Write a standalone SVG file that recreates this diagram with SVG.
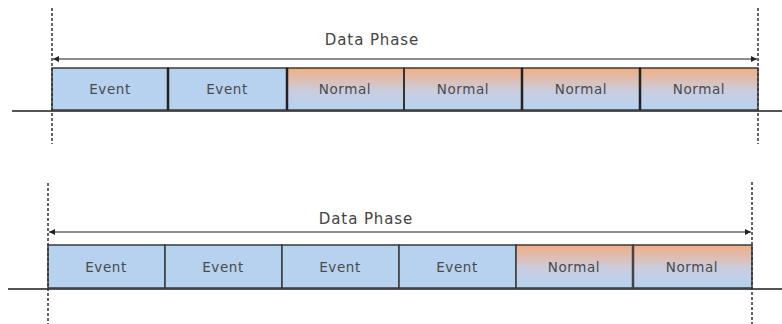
<svg xmlns="http://www.w3.org/2000/svg" width="782" height="324" viewBox="0 0 782 324">
<style>
.ev{fill:#b7d2ee;stroke:#3a3a3a;stroke-width:1.5}
.nm{fill:url(#g);stroke:#3a3a3a;stroke-width:1.5}
.lbl{font-family:"DejaVu Sans","Open Sans",sans-serif;font-size:13.5px;letter-spacing:0.6px;fill:#4a4a4a;text-anchor:middle}
.title{font-family:"DejaVu Sans","Open Sans",sans-serif;font-size:15px;letter-spacing:0.9px;fill:#444;text-anchor:middle}
.base{stroke:#555;stroke-width:2}
.dash{stroke:#333;stroke-width:1.5;stroke-dasharray:3,2}
.arr{stroke:#666;stroke-width:1.5;fill:none;marker-start:url(#ah);marker-end:url(#ah)}
</style>
<defs>
<linearGradient id="g" x1="0" y1="0" x2="0" y2="1">
<stop offset="0" stop-color="#f2ae82"/>
<stop offset="0.55" stop-color="#c9cde0"/>
<stop offset="1" stop-color="#b5d3f0"/>
</linearGradient>
<marker id="ah" viewBox="0 0 10 10" refX="10" refY="5" markerWidth="6" markerHeight="6" orient="auto-start-reverse" markerUnits="userSpaceOnUse">
<path d="M0,0 L10,5 L0,10 z" fill="#222"/>
</marker>
</defs>
<g id="connectors">
<line class="base" x1="12" y1="111" x2="782" y2="111"/>
<line class="base" x1="8" y1="289" x2="782" y2="289"/>
<line class="arr" x1="53" y1="59" x2="757" y2="59"/>
<line class="arr" x1="49" y1="232" x2="751" y2="232"/>
</g>
<g id="row1">
<g id="r1b1"><rect class="ev" x="52" y="68" width="116" height="42"/><text class="lbl" x="110" y="94">Event</text></g>
<g id="r1b2"><rect class="ev" x="168" y="68" width="119" height="42"/><text class="lbl" x="227" y="94">Event</text></g>
<g id="r1b3"><rect class="nm" x="287" y="68" width="117" height="42"/><text class="lbl" x="345" y="94">Normal</text></g>
<g id="r1b4"><rect class="nm" x="404" y="68" width="118" height="42"/><text class="lbl" x="463" y="94">Normal</text></g>
<g id="r1b5"><rect class="nm" x="522" y="68" width="118" height="42"/><text class="lbl" x="581" y="94">Normal</text></g>
<g id="r1b6"><rect class="nm" x="640" y="68" width="118" height="42"/><text class="lbl" x="699" y="94">Normal</text></g>
<line x1="168" y1="68" x2="168" y2="110" stroke="#222" stroke-width="2.5"/>
<line x1="287" y1="68" x2="287" y2="110" stroke="#222" stroke-width="2.5"/>
<line x1="404" y1="68" x2="404" y2="110" stroke="#333" stroke-width="2"/>
<line x1="522" y1="68" x2="522" y2="110" stroke="#222" stroke-width="2.5"/>
<line x1="640" y1="68" x2="640" y2="110" stroke="#222" stroke-width="2.5"/>
<text class="title" x="372" y="45">Data Phase</text>
</g>
<g id="row2">
<g id="r2b1"><rect class="ev" x="48" y="245" width="117" height="43"/><text class="lbl" x="106" y="272">Event</text></g>
<g id="r2b2"><rect class="ev" x="165" y="245" width="117" height="43"/><text class="lbl" x="223" y="272">Event</text></g>
<g id="r2b3"><rect class="ev" x="282" y="245" width="117" height="43"/><text class="lbl" x="340" y="272">Event</text></g>
<g id="r2b4"><rect class="ev" x="399" y="245" width="117" height="43"/><text class="lbl" x="457" y="272">Event</text></g>
<g id="r2b5"><rect class="nm" x="516" y="245" width="117" height="43"/><text class="lbl" x="574" y="272">Normal</text></g>
<g id="r2b6"><rect class="nm" x="633" y="245" width="119" height="43"/><text class="lbl" x="692" y="272">Normal</text></g>
<line x1="633" y1="245" x2="633" y2="288" stroke="#444" stroke-width="2.5"/>
<text class="title" x="366" y="224">Data Phase</text>
</g>
<g id="guides">
<line class="dash" x1="52" y1="8" x2="52" y2="144"/>
<line class="dash" x1="758" y1="8" x2="758" y2="144"/>
<line class="dash" x1="48" y1="183" x2="48" y2="324"/>
<line class="dash" x1="752" y1="182" x2="752" y2="324"/>
</g>
</svg>
